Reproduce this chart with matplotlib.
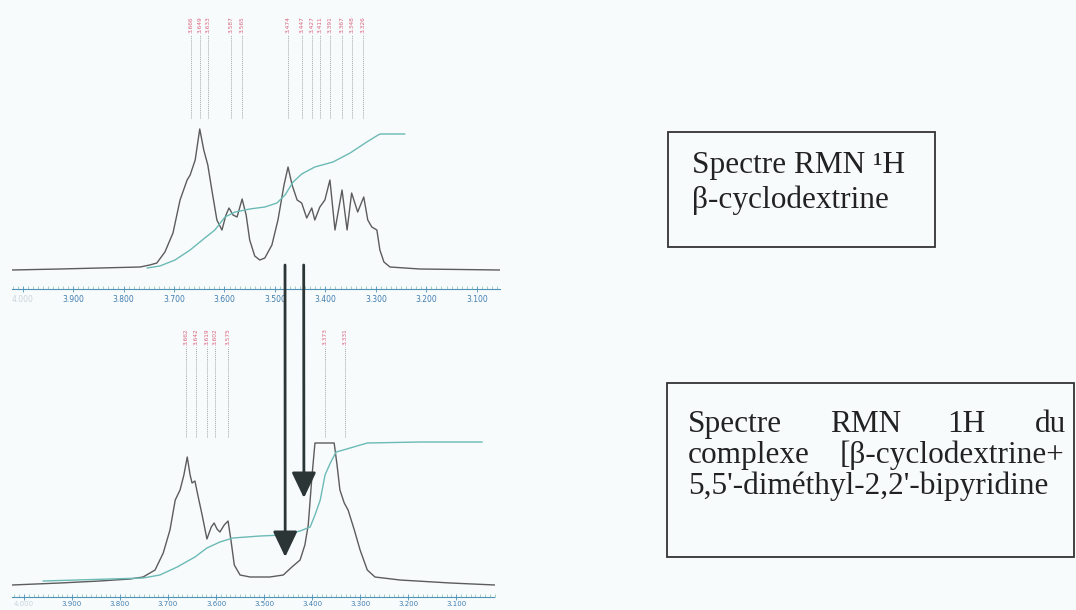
import matplotlib
matplotlib.use("Agg")

import matplotlib.pyplot as plt
from matplotlib.patches import Rectangle, ConnectionPatch
from matplotlib.ticker import FixedLocator, MultipleLocator

# --- top spectrum: beta-cyclodextrine (ppm, intensity) ---
top_ppm = [4.021, 3.926, 3.847, 3.767, 3.748, 3.734, 3.718, 3.702, 3.688, 3.674,
           3.668, 3.658, 3.649, 3.641, 3.633, 3.625, 3.615, 3.605, 3.597, 3.591,
           3.583, 3.575, 3.565, 3.557, 3.550, 3.540, 3.530, 3.520, 3.506, 3.494,
           3.482, 3.474, 3.466, 3.456, 3.447, 3.437, 3.427, 3.421, 3.411, 3.401,
           3.391, 3.381, 3.367, 3.357, 3.348, 3.336, 3.324, 3.316, 3.308, 3.298,
           3.292, 3.284, 3.272, 3.213, 3.054]
top_int = [0, 1, 2, 3, 5, 7, 18, 37, 70, 90,
           95, 110, 141, 120, 105, 80, 50, 40, 55, 62,
           55, 53, 71, 55, 30, 14, 10, 12, 25, 50,
           85, 103, 85, 70, 67, 52, 62, 50, 63, 70,
           90, 40, 80, 40, 77, 58, 73, 50, 43, 40,
           20, 8, 3, 1, 0]

top_integ_ppm = [3.753, 3.728, 3.698, 3.668, 3.639, 3.619, 3.599, 3.579, 3.550, 3.520,
                 3.496, 3.480, 3.464, 3.447, 3.421, 3.385, 3.351, 3.318, 3.302, 3.292,
                 3.243]
top_integ = [2, 4, 10, 20, 32, 40, 53, 58, 61, 63,
             67, 75, 88, 96, 103, 108, 117, 128, 133, 136,
             136]

top_peaks = [3.666, 3.649, 3.633, 3.587, 3.565, 3.474, 3.447, 3.427, 3.411,
             3.391, 3.367, 3.348, 3.326]

# --- bottom spectrum: complex ---
bot_ppm = [4.025, 3.925, 3.842, 3.779, 3.752, 3.727, 3.710, 3.696, 3.685, 3.675,
           3.667, 3.660, 3.654, 3.650, 3.644, 3.638, 3.629, 3.619, 3.610, 3.604,
           3.598, 3.592, 3.583, 3.575, 3.569, 3.562, 3.550, 3.529, 3.488, 3.460,
           3.442, 3.425, 3.415, 3.408, 3.400, 3.394, 3.354, 3.348, 3.342, 3.333,
           3.325, 3.312, 3.300, 3.285, 3.269, 3.217, 3.112, 3.019]
bot_int = [0, 2, 4, 6, 8, 15, 32, 55, 85, 95,
           110, 128, 110, 102, 104, 90, 70, 46, 58, 62,
           56, 53, 60, 64, 45, 20, 10, 8, 8, 10,
           18, 25, 40, 60, 110, 142, 142, 120, 95, 82,
           75, 55, 35, 15, 8, 5, 2, 0]

bot_integ_ppm = [3.960, 3.752, 3.717, 3.681, 3.644, 3.619, 3.592, 3.565, 3.508, 3.460,
                 3.425, 3.404, 3.394, 3.383, 3.373, 3.362, 3.350, 3.335, 3.285, 3.175,
                 3.046]
bot_integ = [4, 7, 10, 18, 28, 37, 43, 47, 49, 50,
             54, 58, 70, 85, 110, 122, 133, 135, 142, 143,
             143]

bot_peaks = [3.662, 3.642, 3.619, 3.602, 3.575, 3.373, 3.331]

tick_ppm = [4.0, 3.9, 3.8, 3.7, 3.6, 3.5, 3.4, 3.3, 3.2, 3.1]
tick_labels = ["4.000", "3.900", "3.800", "3.700", "3.600", "3.500",
               "3.400", "3.300", "3.200", "3.100"]

W, H = 1076, 610
bg = "#f8fbfc"
spec_col = "#5c5c5c"
integ_col = "#6bbab6"
peak_col = "#d9657e"
axis_col = "#4f93b8"

fig = plt.figure(figsize=(W / 100, H / 100), dpi=100, facecolor=bg)


def px_axes(x0, y0, x1, y1):
    # axes box given in picture pixels (y from top)
    return fig.add_axes([x0 / W, 1 - y1 / H, (x1 - x0) / W, (y1 - y0) / H])


def draw_spectrum(ax, ppm, inten, ippm, integ, peaks, xlim, ylim, line_lo, line_hi,
                  label_size=5.5):
    ax.set_facecolor("none")
    ax.plot(ppm, inten, color=spec_col, lw=1.0)
    ax.plot(ippm, integ, color=integ_col, lw=1.0)
    for p in peaks:
        ax.plot([p, p], [line_lo, line_hi], color="#a8a8a8", lw=0.7, ls=(0, (1, 1)))
        ax.text(p, line_hi + 2, "%.3f" % p, rotation=90, fontsize=4.2,
                color=peak_col, ha="center", va="bottom")
    ax.set_xlim(*xlim)
    ax.set_ylim(*ylim)
    for s in ["top", "left", "right"]:
        ax.spines[s].set_visible(False)
    ax.spines["bottom"].set_color(axis_col)
    ax.spines["bottom"].set_linestyle((0, (2, 1)))
    ax.spines["bottom"].set_linewidth(0.8)
    ax.set_yticks([])
    ax.xaxis.set_major_locator(FixedLocator(tick_ppm))
    ax.set_xticklabels(tick_labels)
    ax.xaxis.set_minor_locator(MultipleLocator(0.01))
    ax.tick_params(axis="x", which="major", direction="inout", length=5, width=0.6,
                   color=axis_col, labelcolor="#3f7db0", labelsize=label_size, pad=2)
    ax.tick_params(axis="x", which="minor", direction="in", length=2, width=0.5,
                   color="#8cc0a0")
    ax.get_xticklabels()[0].set_color("#c8d4dc")


ax_top = px_axes(12, 5, 500, 289)
draw_spectrum(ax_top, top_ppm, top_int, top_integ_ppm, top_integ, top_peaks,
              (4.021, 3.054), (-19, 265), 152, 235)

ax_bot = px_axes(12, 318, 495, 597)
draw_spectrum(ax_bot, bot_ppm, bot_int, bot_integ_ppm, bot_integ, bot_peaks,
              (4.025, 3.019), (-12, 267), 148, 238, label_size=5.0)
ax_bot.tick_params(axis="x", which="major", pad=0.5)

# arrows from the top spectrum down to the shifted signals
arrow_col = "#2b3535"
for p_top, p_bot, tip in [(3.480, 3.456, 28), (3.443, 3.417, 87)]:
    con = ConnectionPatch(xyA=(p_top, 5), coordsA=ax_top.transData,
                          xyB=(p_bot, tip), coordsB=ax_bot.transData,
                          arrowstyle="-|>,head_length=1.05,head_width=0.5",
                          mutation_scale=15, color=arrow_col, lw=2.0)
    fig.add_artist(con)


# caption boxes
def px_rect(x0, y0, x1, y1):
    r = Rectangle((x0 / W, 1 - y1 / H), (x1 - x0) / W, (y1 - y0) / H,
                  transform=fig.transFigure, fill=False, ec="#333333", lw=1.3)
    fig.add_artist(r)


px_rect(668, 132, 935, 247)
px_rect(667, 383, 1074, 557)

serif = "Liberation Serif"
tk = dict(fontfamily=serif, fontsize=22.5, color="#222222", va="baseline", ha="left")
fig.text(692 / W, 1 - 173 / H, "Spectre RMN \u00b9H", **tk)
fig.text(692 / W, 1 - 208 / H, "\u03b2-cyclodextrine", **tk)

# justified caption of the second box
fig.text(688 / W, 1 - 432 / H, "Spectre", **tk)
fig.text(830 / W, 1 - 432 / H, "RMN", **tk)
fig.text(947 / W, 1 - 432 / H, "1H", **tk)
fig.text(1066 / W, 1 - 432 / H, "du", **dict(tk, ha="right"))
fig.text(688 / W, 1 - 463 / H, "complexe", **tk)
fig.text(1064 / W, 1 - 463 / H, "[\u03b2-cyclodextrine+", **dict(tk, ha="right"))
fig.text(688 / W, 1 - 494 / H, "5,5'-dim\u00e9thyl-2,2'-bipyridine", **tk)

fig.savefig("out.png", dpi=100, facecolor=bg)
